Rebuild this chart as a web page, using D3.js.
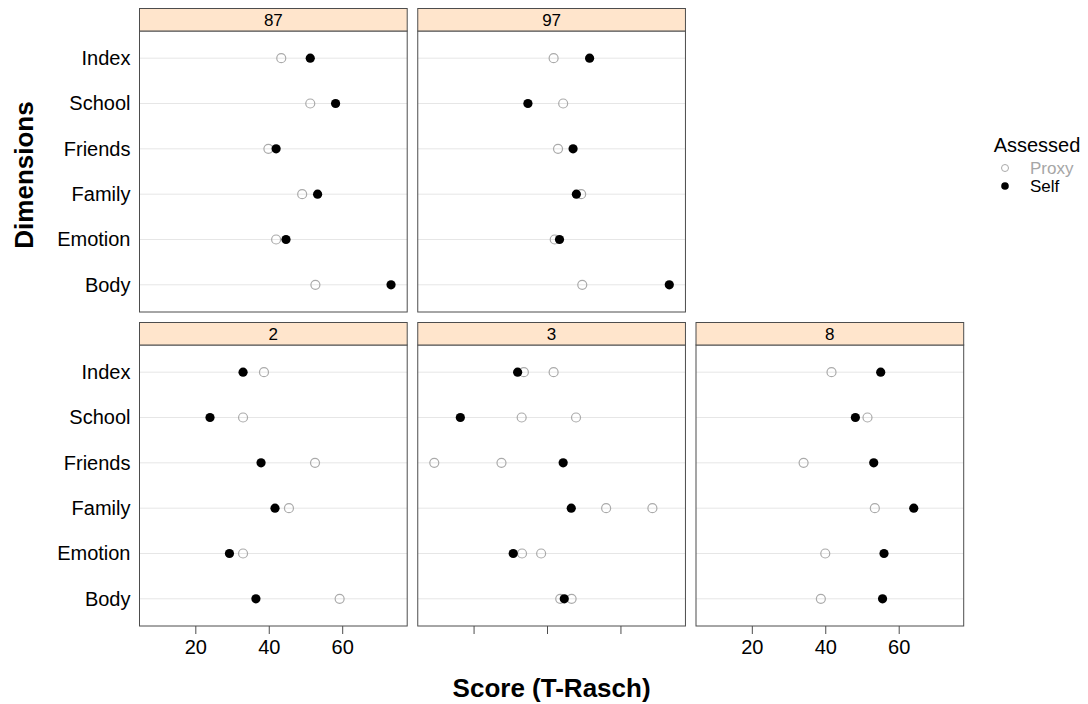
<!DOCTYPE html>
<html>
<head>
<meta charset="utf-8">
<script src="https://cdn.jsdelivr.net/npm/d3@7"></script>
<style>
  body { margin: 0; background: #fff; }
  text { font-family: "Liberation Sans", Arial, Helvetica, sans-serif; }
</style>
</head>
<body>
<script>
// dimensions, top to bottom as drawn
var dims = ["Index", "School", "Friends", "Family", "Emotion", "Body"];
var panels = ["87", "97", "2", "3", "8"];

// scores per panel, in dims order
var self_87 = [51.3, 58.2, 42.0, 53.3, 44.7, 73.3];
var proxy_87 = [43.4, 51.3, 39.9, 49.1, 42.0, 52.7];
var self_97 = [51.6, 34.8, 47.1, 48.0, 43.4, 73.3];
var proxy_97 = [41.8, 44.4, 43.0, 49.3, 42.1, 49.6];
var self_2 = [33.0, 24.0, 37.9, 41.7, 29.3, 36.5];
var proxy_2 = [38.7, 33.0, 52.6, 45.5, 33.0, 59.3];
var self_3 = [32.0, 16.4, 44.4, 46.6, 30.8, 44.7];
var proxy_3 = [33.7, 33.1, 9.3, 56.1, 33.2, 43.6];
var proxy2_3 = [41.8, 47.9, 27.6, 68.7, 38.4, 46.7];
var self_8 = [55.1, 48.2, 53.2, 64.1, 56.0, 55.6];
var proxy_8 = [41.7, 51.5, 34.1, 53.5, 40.0, 38.8];

var xTicks = [20, 40, 60];

var selfByPanel = { "87": self_87, "97": self_97, "2": self_2, "3": self_3, "8": self_8 };
var proxyByPanel = {
  "87": [proxy_87], "97": [proxy_97], "2": [proxy_2],
  "3": [proxy_3, proxy2_3], "8": [proxy_8]
};

var width = 1088, height = 704;
var left0 = 139.5, colStep = 278.25, top0 = 8.5, rowStep = 314;
var pw = 267.7, ph = 281, stripH = 22.5;

// layout: [col, row] for each panel
var layout = { "87": [0, 0], "97": [1, 0], "2": [0, 1], "3": [1, 1], "8": [2, 1] };

var svg = d3.select('body')
  .append('svg')
  .attr('width', width)
  .attr('height', height);

var x = d3.scaleLinear().domain([4.8, 77.7]).range([0, pw]);
var y = d3.scalePoint().domain(dims).range([0, ph]).padding(0.6);

var border = "#4d4d4d";

panels.forEach(function(p) {
  var col = layout[p][0], row = layout[p][1];
  var px = left0 + col * colStep;
  var sy = top0 + row * rowStep;
  var py = sy + stripH;

  var g = svg.append('g').attr('transform', 'translate(' + px + ',' + py + ')');

  // reference lines
  g.selectAll('.ref')
    .data(dims)
    .enter()
    .append('line')
    .attr('x1', 0).attr('x2', pw)
    .attr('y1', function(d) { return y(d); })
    .attr('y2', function(d) { return y(d); })
    .attr('stroke', '#e6e6e6')
    .attr('stroke-width', 1);

  // proxy points
  proxyByPanel[p].forEach(function(arr) {
    g.selectAll(null)
      .data(arr)
      .enter()
      .append('circle')
      .attr('cx', function(d) { return x(d); })
      .attr('cy', function(d, i) { return y(dims[i]); })
      .attr('r', 4.5)
      .attr('fill', 'none')
      .attr('stroke', '#aaaaaa')
      .attr('stroke-width', 1.2);
  });

  // self points
  g.selectAll(null)
    .data(selfByPanel[p])
    .enter()
    .append('circle')
    .attr('cx', function(d) { return x(d); })
    .attr('cy', function(d, i) { return y(dims[i]); })
    .attr('r', 4.6)
    .attr('fill', '#000');

  // panel border
  g.append('rect')
    .attr('x', 0).attr('y', 0)
    .attr('width', pw).attr('height', ph)
    .attr('fill', 'none')
    .attr('stroke', border);

  // strip
  svg.append('rect')
    .attr('x', px).attr('y', sy)
    .attr('width', pw).attr('height', stripH)
    .attr('fill', '#ffe5cc')
    .attr('stroke', border);
  svg.append('text')
    .attr('x', px + pw / 2)
    .attr('y', sy + 17.5)
    .attr('text-anchor', 'middle')
    .attr('font-size', 17)
    .attr('fill', '#000')
    .text(p);

  // y labels on the first column
  if (col === 0) {
    var ya = d3.axisLeft(y).tickSize(0).tickPadding(9);
    var yg = g.append('g').call(ya);
    yg.select('.domain').remove();
    yg.selectAll('text').attr('font-size', 20).attr('fill', '#000')
      .style('font-family', '"Liberation Sans", Arial, sans-serif');
  }

  // x axis on the bottom row
  if (row === 1) {
    var xa = d3.axisBottom(x).tickValues(xTicks).tickSize(8).tickPadding(6);
    if (col === 1) xa.tickFormat('');
    var xg = g.append('g').attr('transform', 'translate(0,' + ph + ')').call(xa);
    xg.select('.domain').remove();
    xg.selectAll('line').attr('stroke', border);
    xg.selectAll('text').attr('font-size', 20).attr('fill', '#000')
      .style('font-family', '"Liberation Sans", Arial, sans-serif');
  }
});

// axis titles
svg.append('text')
  .attr('x', left0 + (2 * colStep + pw) / 2)
  .attr('y', 697)
  .attr('text-anchor', 'middle')
  .attr('font-size', 26)
  .attr('font-weight', 'bold')
  .text('Score (T-Rasch)');

svg.append('text')
  .attr('transform', 'translate(33,175) rotate(-90)')
  .attr('text-anchor', 'middle')
  .attr('font-size', 26)
  .attr('font-weight', 'bold')
  .text('Dimensions');

// legend
var leg = svg.append('g');
leg.append('text')
  .attr('x', 1037).attr('y', 152)
  .attr('text-anchor', 'middle')
  .attr('font-size', 20)
  .text('Assessed');
leg.append('circle')
  .attr('cx', 1005).attr('cy', 168)
  .attr('r', 3.5)
  .attr('fill', 'none')
  .attr('stroke', '#aaaaaa');
leg.append('text')
  .attr('x', 1030).attr('y', 174)
  .attr('font-size', 17)
  .attr('fill', '#a6a6a6')
  .text('Proxy');
leg.append('circle')
  .attr('cx', 1005).attr('cy', 186)
  .attr('r', 3.8)
  .attr('fill', '#000');
leg.append('text')
  .attr('x', 1030).attr('y', 192)
  .attr('font-size', 17)
  .attr('fill', '#000')
  .text('Self');
</script>
</body>
</html>
